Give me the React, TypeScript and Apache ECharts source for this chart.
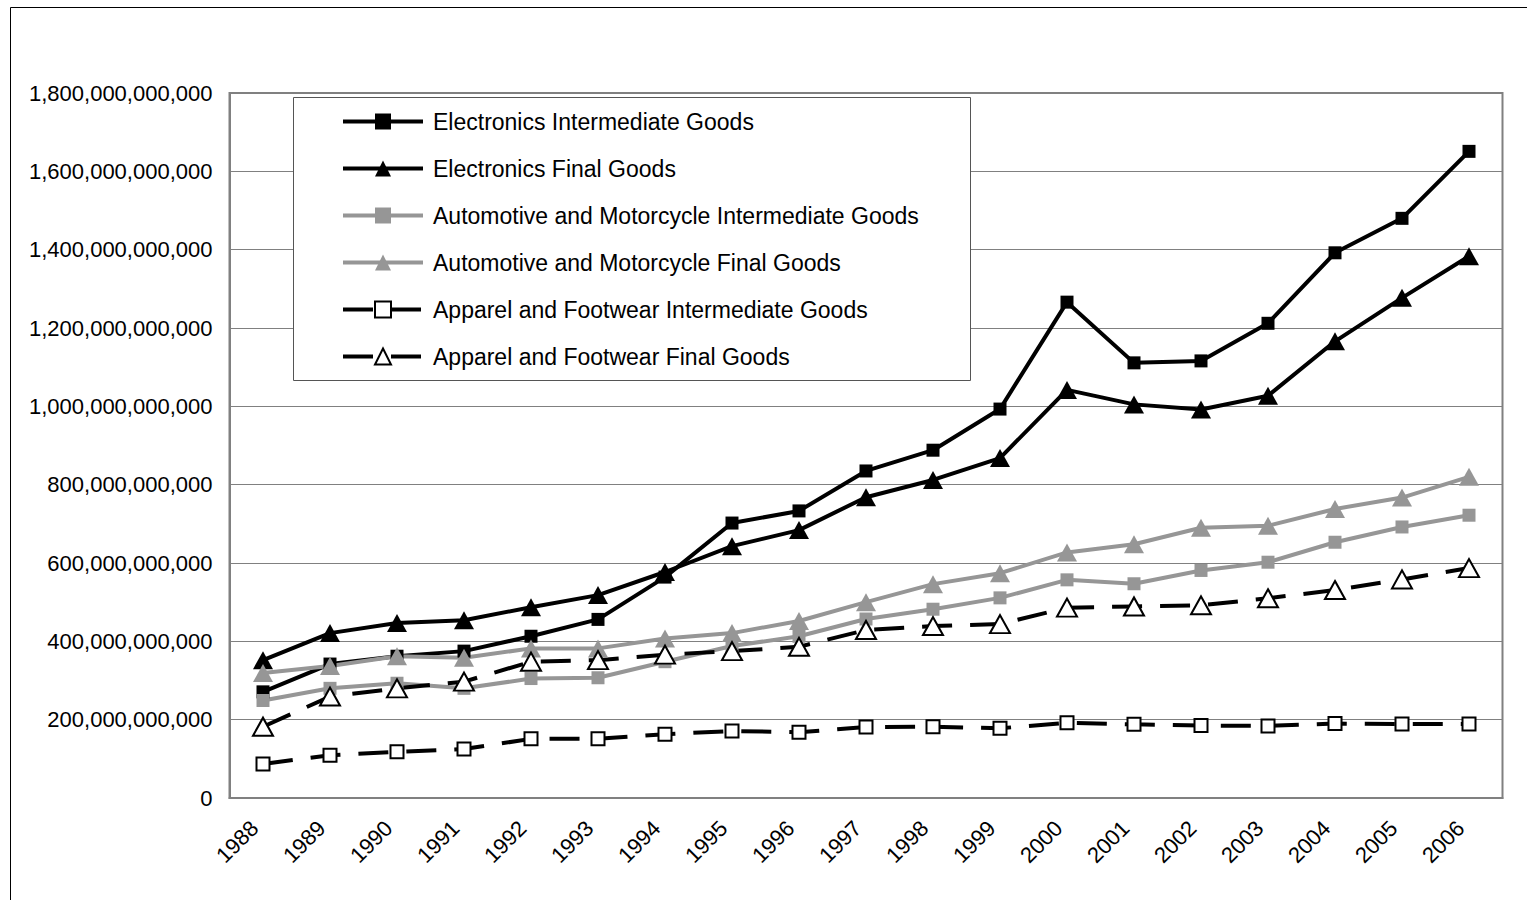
import React, { useEffect, useRef } from "react";
import * as echarts from "echarts";

// Trade values by year, in billions of US dollars
const years = [
  "1988", "1989", "1990", "1991", "1992", "1993", "1994", "1995", "1996", "1997",
  "1998", "1999", "2000", "2001", "2002", "2003", "2004", "2005", "2006",
];
const electronicsIntermediate = [271, 342, 362, 375, 413, 456, 564, 702, 733, 835, 888, 993, 1266, 1111, 1116, 1212, 1392, 1480, 1651];
const electronicsFinal = [352, 421, 447, 454, 487, 518, 577, 643, 684, 768, 812, 868, 1042, 1005, 992, 1027, 1166, 1277, 1383];
const automotiveIntermediate = [249, 280, 293, 280, 305, 307, 348, 388, 413, 457, 482, 511, 557, 547, 581, 602, 653, 692, 722];
const automotiveFinal = [319, 337, 362, 358, 382, 382, 407, 421, 452, 500, 546, 574, 627, 648, 690, 695, 738, 767, 820];
const apparelIntermediate = [87, 109, 118, 125, 151, 151, 163, 171, 168, 181, 182, 178, 192, 188, 185, 184, 190, 189, 189];
const apparelFinal = [182, 259, 280, 297, 348, 352, 366, 375, 386, 429, 439, 444, 486, 489, 492, 510, 531, 558, 587];

const yMin = 0;
const yMax = 1800000000000;
const yStep = 200000000000;

const FONT = "'Liberation Sans', Arial, sans-serif";
const BLACK = "#000000";
const GRAY = "#969696";
const AXIS_GRAY = "#808080";

const toDollars = (arr: number[]) => arr.map((v) => v * 1e9);

export default function App() {
  const ref = useRef<HTMLDivElement>(null);

  useEffect(() => {
    document.body.style.margin = "0";
    if (!ref.current) return;
    const chart = echarts.init(ref.current, undefined, { renderer: "svg" });

    const makeSeries = (
      name: string,
      data: number[],
      color: string,
      symbol: string,
      symbolSize: number | number[],
      hollow: boolean,
      dashed: boolean
    ) => ({
      name,
      type: "line",
      data: toDollars(data),
      symbol,
      symbolSize,
      showSymbol: true,
      lineStyle: { color, width: 4, type: dashed ? [30, 18] : "solid" },
      itemStyle: hollow
        ? { color: "#ffffff", borderColor: color, borderWidth: 2 }
        : { color, borderWidth: 0 },
      emphasis: { disabled: true },
    });

    chart.setOption({
      animation: false,
      backgroundColor: "#ffffff",
      textStyle: { fontFamily: FONT },
      grid: {
        left: 229.5,
        right: 24.5,
        top: 93,
        bottom: 102,
        show: true,
        borderColor: AXIS_GRAY,
        borderWidth: 2,
        backgroundColor: "transparent",
      },
      graphic: [
        {
          type: "rect",
          z: -10,
          shape: { x: 10.5, y: 7.5, width: 1560, height: 950 },
          style: { fill: "none", stroke: "#000000", lineWidth: 1 },
          silent: true,
        },
        {
          type: "rect",
          z: 3,
          shape: { x: 293.5, y: 97.5, width: 677, height: 283 },
          style: { fill: "#ffffff", stroke: "#555555", lineWidth: 1 },
          silent: true,
        },
      ],
      legend: {
        orient: "vertical",
        left: 341,
        top: 110,
        padding: 0,
        itemWidth: 80,
        itemHeight: 20,
        itemGap: 24,
        z: 5,
        lineStyle: { width: 4 },
        textStyle: {
          fontFamily: FONT,
          fontSize: 23,
          color: "#000000",
          padding: [0, 0, 0, 5],
        },
        data: [
          "Electronics Intermediate Goods",
          "Electronics Final Goods",
          "Automotive and Motorcycle Intermediate Goods",
          "Automotive and Motorcycle Final Goods",
          "Apparel and Footwear Intermediate Goods",
          "Apparel and Footwear Final Goods",
        ],
      },
      xAxis: {
        type: "category",
        data: years,
        boundaryGap: true,
        axisLine: { show: true, lineStyle: { color: AXIS_GRAY, width: 2 } },
        axisTick: { show: false },
        axisLabel: {
          rotate: 45,
          margin: 18,
          fontSize: 22,
          color: "#000000",
          fontFamily: FONT,
          interval: 0,
          padding: [0, 12, 0, 0],
        },
      },
      yAxis: {
        type: "value",
        min: yMin,
        max: yMax,
        interval: yStep,
        axisLine: { show: true, lineStyle: { color: AXIS_GRAY, width: 2 } },
        axisTick: { show: false },
        splitLine: { show: true, lineStyle: { color: AXIS_GRAY, width: 1 } },
        axisLabel: {
          margin: 17,
          fontSize: 22,
          color: "#000000",
          fontFamily: FONT,
          formatter: (v: number) => v.toLocaleString("en-US"),
        },
      },
      series: [
        makeSeries("Electronics Intermediate Goods", electronicsIntermediate, BLACK, "rect", 13, false, false),
        makeSeries("Electronics Final Goods", electronicsFinal, BLACK, "triangle", [20, 18], false, false),
        makeSeries("Automotive and Motorcycle Intermediate Goods", automotiveIntermediate, GRAY, "rect", 13, false, false),
        makeSeries("Automotive and Motorcycle Final Goods", automotiveFinal, GRAY, "triangle", [20, 18], false, false),
        makeSeries("Apparel and Footwear Intermediate Goods", apparelIntermediate, BLACK, "rect", 13, true, true),
        makeSeries("Apparel and Footwear Final Goods", apparelFinal, BLACK, "triangle", [20, 18], true, true),
      ],
    });

    return () => chart.dispose();
  }, []);

  return <div ref={ref} style={{ width: 1527, height: 900 }} />;
}
